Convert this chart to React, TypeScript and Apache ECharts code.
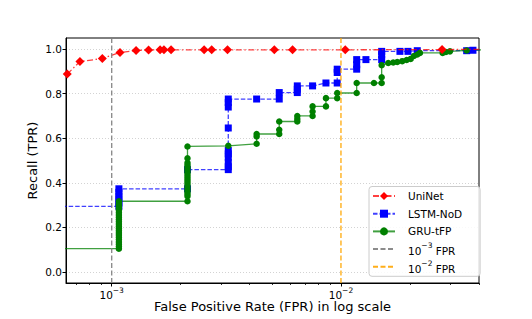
import React, { useEffect, useRef } from 'react';
import * as echarts from 'echarts';

// ---- Data (FPR on a log axis, Recall/TPR) ----
const uninetFpr = [6.4e-4, 7.27e-4, 9.1e-4, 1.087e-3, 1.277e-3, 1.448e-3, 1.626e-3, 1.69e-3, 1.815e-3, 2.53e-3, 2.73e-3, 3.2e-3, 5.12e-3, 6.15e-3, 1.044e-2, 2.76e-2, 5e-2];
const uninetTpr = [0.888, 0.944, 0.958, 0.985, 0.994, 0.996, 0.997, 0.997, 0.997, 0.997, 0.997, 0.997, 0.997, 0.997, 0.997, 0.998, 1.0];

const lstmFpr = [5e-4, 1.075e-3, 1.075e-3, 1.075e-3, 1.075e-3, 1.075e-3, 1.075e-3, 2.141e-3, 2.141e-3, 3.225e-3, 3.225e-3, 3.225e-3, 3.225e-3, 3.225e-3, 3.225e-3, 3.225e-3, 3.225e-3, 3.225e-3, 3.225e-3, 4.287e-3, 5.38e-3, 5.38e-3, 6.45e-3, 6.45e-3, 6.45e-3, 7.52e-3, 8.6e-3, 9.63e-3, 9.63e-3, 9.63e-3, 1.171e-2, 1.171e-2, 1.171e-2, 1.285e-2, 1.505e-2, 1.505e-2, 1.505e-2, 1.808e-2, 1.96e-2, 2.152e-2, 3.534e-2, 3.764e-2, 5e-2];
const lstmTpr = [0.294, 0.294, 0.31, 0.325, 0.34, 0.357, 0.373, 0.373, 0.459, 0.459, 0.472, 0.49, 0.515, 0.53, 0.545, 0.646, 0.74, 0.76, 0.776, 0.776, 0.776, 0.805, 0.805, 0.82, 0.835, 0.835, 0.848, 0.848, 0.895, 0.91, 0.91, 0.93, 0.953, 0.953, 0.953, 0.975, 0.99, 0.99, 0.99, 0.993, 0.993, 0.995, 1.0];

const gruFpr = [5e-4, 1.075e-3, 1.075e-3, 1.075e-3, 1.075e-3, 1.075e-3, 1.075e-3, 1.075e-3, 1.075e-3, 1.075e-3, 1.075e-3, 1.075e-3, 1.075e-3, 1.075e-3, 1.075e-3, 1.075e-3, 1.075e-3, 1.075e-3, 1.075e-3, 1.075e-3, 1.075e-3, 1.075e-3, 1.075e-3, 2.141e-3, 2.141e-3, 2.141e-3, 2.141e-3, 2.141e-3, 2.141e-3, 2.141e-3, 2.141e-3, 2.141e-3, 2.141e-3, 2.141e-3, 2.141e-3, 2.141e-3, 2.141e-3, 2.141e-3, 2.141e-3, 2.141e-3, 2.141e-3, 2.141e-3, 3.225e-3, 4.287e-3, 4.287e-3, 4.287e-3, 5.38e-3, 5.38e-3, 5.38e-3, 6.45e-3, 6.45e-3, 6.45e-3, 7.52e-3, 7.52e-3, 7.52e-3, 8.6e-3, 8.6e-3, 9.63e-3, 9.63e-3, 1.171e-2, 1.171e-2, 1.393e-2, 1.505e-2, 1.505e-2, 1.505e-2, 1.608e-2, 1.69e-2, 1.76e-2, 1.85e-2, 1.934e-2, 2.014e-2, 2.08e-2, 2.152e-2, 2.21e-2, 2.777e-2, 2.87e-2, 2.988e-2, 3.534e-2, 5e-2];
const gruTpr = [0.104, 0.104, 0.114, 0.124, 0.134, 0.145, 0.155, 0.165, 0.175, 0.185, 0.195, 0.205, 0.215, 0.225, 0.235, 0.245, 0.255, 0.265, 0.275, 0.285, 0.295, 0.305, 0.317, 0.317, 0.34, 0.35, 0.36, 0.37, 0.38, 0.39, 0.4, 0.41, 0.42, 0.43, 0.44, 0.45, 0.46, 0.47, 0.48, 0.49, 0.51, 0.563, 0.566, 0.575, 0.608, 0.619, 0.619, 0.638, 0.675, 0.675, 0.686, 0.7, 0.7, 0.72, 0.743, 0.743, 0.78, 0.78, 0.803, 0.803, 0.848, 0.848, 0.848, 0.874, 0.928, 0.938, 0.94, 0.942, 0.946, 0.951, 0.956, 0.969, 0.976, 0.983, 0.983, 0.987, 0.99, 0.994, 1.0];

const refFprs = [1e-3, 1e-2];
const refNames = ['10^−3 FPR', '10^−2 FPR'];
const yTicks = [0, 0.2, 0.4, 0.6, 0.8, 1.0];
const xMajorTicks = [1e-3, 1e-2];
const xMinorTicks = [7e-4, 8e-4, 9e-4, 2e-3, 3e-3, 4e-3, 5e-3, 6e-3, 7e-3, 8e-3, 9e-3, 2e-2, 3e-2, 4e-2];
const xLimits = [6.32e-4, 4e-2];
const yLimits = [-0.05, 1.05];

const FONT = 'DejaVu Sans';
const lg = (v: number) => Math.log10(v);
const toPts = (xs: number[], ys: number[]) => xs.map((x, i) => [lg(x), ys[i]]);

export default function App() {
  const ref = useRef<HTMLDivElement>(null);
  useEffect(() => {
    if (!ref.current) return;
    const chart = echarts.init(ref.current, null, { renderer: 'svg' });
    const tickRich = {
      base: { fontSize: 10.5, fontFamily: FONT, color: '#000', verticalAlign: 'bottom', lineHeight: 14 },
      sup: { fontSize: 7.5, fontFamily: FONT, color: '#000', verticalAlign: 'top', lineHeight: 8 },
    };
    const legendRich = {
      base: { fontSize: 10.5, fontFamily: FONT, color: '#000', verticalAlign: 'bottom', lineHeight: 15 },
      sup: { fontSize: 7.5, fontFamily: FONT, color: '#000', verticalAlign: 'top', lineHeight: 7 },
    };
    const xmin = lg(xLimits[0]);
    const xmax = lg(xLimits[1]);
    const option: any = {
      animation: false,
      backgroundColor: '#fff',
      grid: {
        left: 66, top: 38, width: 413, height: 245,
        show: true, borderColor: '#000', borderWidth: 1,
        containLabel: false, outerBoundsMode: 'none',
      },
      legend: {
        orient: 'vertical',
        left: 369, top: 186.5,
        padding: [2, 18, 2, 3],
        itemWidth: 22, itemHeight: 10, itemGap: 2.7,
        backgroundColor: 'rgba(255,255,255,0.85)',
        borderColor: '#cccccc', borderWidth: 1, borderRadius: 3,
        data: [
          { name: 'UniNet' },
          { name: 'LSTM-NoD' },
          { name: 'GRU-tFP' },
          { name: refNames[0], itemStyle: { color: 'rgba(0,0,0,0)' } },
          { name: refNames[1], itemStyle: { color: 'rgba(0,0,0,0)' } },
        ],
        formatter: (n: string) => {
          const m = n.match(/^(\d+)\^(\S+)(.*)$/);
          return m ? `{base|${m[1]}}{sup|${m[2]}}{base|${m[3]}}` : n;
        },
        textStyle: {
          fontSize: 10.5, fontFamily: FONT, color: '#000', lineHeight: 15,
          padding: [0, 0, 0, 8],
          rich: legendRich,
        },
      },
      xAxis: [
        {
          type: 'value', min: xmin, max: xmax,
          name: 'False Positive Rate (FPR) in log scale',
          nameLocation: 'middle', nameGap: 17, nameMoveOverlap: false,
          nameTextStyle: { fontSize: 13, fontFamily: FONT, color: '#000' },
          axisLine: { show: true, onZero: false, lineStyle: { color: '#000', width: 1 } },
          axisTick: { show: true, length: 3.5, customValues: xMajorTicks.map(lg), lineStyle: { color: '#000', width: 1 } },
          axisLabel: {
            customValues: xMajorTicks.map(lg),
            margin: 3,
            formatter: (v: number) => `{base|10}{sup|−${Math.round(-v)}}`,
            rich: tickRich,
          },
          splitLine: { show: false },
        },
        {
          type: 'value', min: xmin, max: xmax, position: 'bottom',
          axisLine: { show: false, onZero: false },
          axisTick: { show: true, length: 2, customValues: xMinorTicks.map(lg), lineStyle: { color: '#000', width: 0.8 } },
          axisLabel: { show: false },
          splitLine: { show: false },
        },
      ],
      yAxis: {
        type: 'value', min: yLimits[0], max: yLimits[1],
        name: 'Recall (TPR)', nameLocation: 'middle', nameGap: 27, nameMoveOverlap: false,
        nameTextStyle: { fontSize: 13, fontFamily: FONT, color: '#000' },
        axisLine: { show: true, onZero: false, lineStyle: { color: '#000', width: 1 } },
        axisTick: { show: true, length: 3.5, customValues: yTicks, lineStyle: { color: '#000', width: 1 } },
        axisLabel: {
          customValues: yTicks, margin: 4,
          fontSize: 10.5, fontFamily: FONT, color: '#000',
          formatter: (v: number) => v.toFixed(1),
        },
        splitLine: { show: true, lineStyle: { type: [1, 2], color: '#c8c8c8', width: 0.8 } },
      },
      series: [
        {
          name: 'UniNet', type: 'line', data: toPts(uninetFpr, uninetTpr),
          symbol: 'diamond', symbolSize: 9, clip: true,
          itemStyle: { color: '#ff0000' },
          lineStyle: { color: '#ff0000', width: 1.3, type: [6, 2.5, 1.5, 2.5], opacity: 0.75 },
          z: 4,
        },
        {
          name: 'LSTM-NoD', type: 'line', data: toPts(lstmFpr, lstmTpr),
          symbol: 'rect', symbolSize: 7, clip: true,
          itemStyle: { color: '#0000ff' },
          lineStyle: { color: '#0000ff', width: 1.3, type: [4.5, 2], opacity: 0.75 },
          z: 3,
        },
        {
          name: 'GRU-tFP', type: 'line', data: toPts(gruFpr, gruTpr),
          symbol: 'circle', symbolSize: 6.5, clip: true,
          itemStyle: { color: '#008000' },
          lineStyle: { color: '#008000', width: 1.3, opacity: 0.75 },
          z: 3,
        },
        ...refFprs.map((f, i) => ({
          name: refNames[i], type: 'line', symbol: 'none', clip: true,
          data: [[lg(f), yLimits[0]], [lg(f), yLimits[1]]],
          itemStyle: { color: i === 0 ? '#808080' : '#ffa500' },
          lineStyle: { color: i === 0 ? '#808080' : '#ffa500', width: 1.4, type: [5, 2.5], opacity: 0.9 },
          z: 5,
        })),
      ],
    };
    chart.setOption(option);
    return () => chart.dispose();
  }, []);
  return (
    <div
      ref={ref}
      style={{ position: 'fixed', left: 0, top: 0, width: 532, height: 319, background: '#fff' }}
    />
  );
}
